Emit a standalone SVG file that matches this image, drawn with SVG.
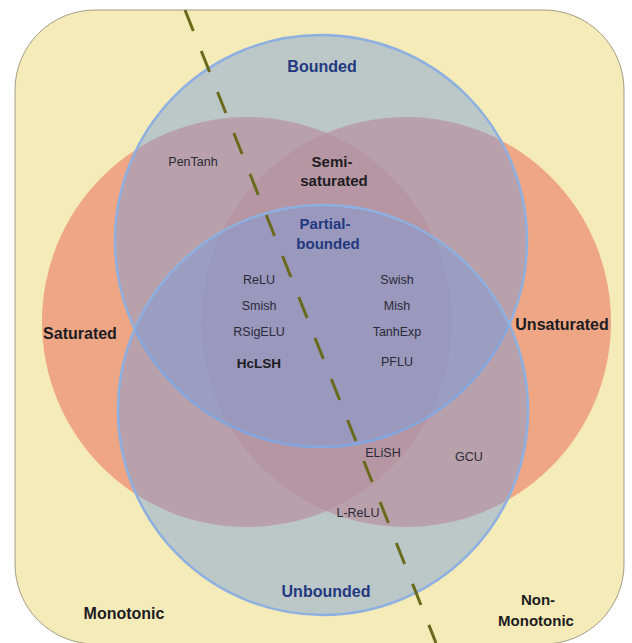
<svg xmlns="http://www.w3.org/2000/svg" width="632" height="643" viewBox="0 0 632 643">
<defs>
<style>
.bg{fill:#F5EBB8;stroke:#A39C86;stroke-width:1}
.red{fill:#EB8A70;fill-opacity:0.72;stroke:none}
.blue{fill:#789BDC;fill-opacity:0.45;stroke:#8DB0E0;stroke-width:2.5}
.dash{stroke:#6A6A1C;stroke-width:3;stroke-dasharray:22.6 21.5;fill:none}
text{font-family:"Liberation Sans",Arial,sans-serif;text-anchor:middle}
.big{font-size:16px;font-weight:bold;fill:#1C1C22}
.mid{font-size:15px;font-weight:bold;fill:#1C1C22}
.blu{font-size:16px;font-weight:bold;fill:#22397F}
.blum{font-size:15px;font-weight:bold;fill:#22397F}
.sm{font-size:12.5px;fill:#2A2A38}
.smb{font-size:13.5px;font-weight:bold;fill:#1C1C22}
</style>
</defs>
<rect width="632" height="643" fill="#FFFFFF"/>
<g id="monotonicity">
<rect class="bg" x="15" y="10" width="609" height="634" rx="80" ry="80"/>
</g>
<g id="saturated">
<circle class="red" cx="247" cy="322" r="205"/>
</g>
<g id="unsaturated">
<circle class="red" cx="406" cy="322" r="205"/>
</g>
<g id="bounded">
<circle class="blue" cx="321" cy="241" r="206"/>
</g>
<g id="unbounded">
<circle class="blue" cx="323" cy="410" r="205"/>
</g>
<g id="connectors">
<line class="dash" x1="185" y1="10" x2="436" y2="643"/>
</g>
<g id="labels">
<text class="blu" x="322" y="72">Bounded</text>
<text class="sm" x="193" y="166">PenTanh</text>
<text class="mid" x="332" y="167">Semi-</text>
<text class="mid" x="334" y="186">saturated</text>
<text class="blum" x="325" y="229">Partial-</text>
<text class="blum" x="328" y="249">bounded</text>
<text class="sm" x="259" y="284">ReLU</text>
<text class="sm" x="259" y="310">Smish</text>
<text class="sm" x="259" y="336">RSigELU</text>
<text class="smb" x="259" y="368">HcLSH</text>
<text class="sm" x="397" y="284">Swish</text>
<text class="sm" x="397" y="310">Mish</text>
<text class="sm" x="397" y="336">TanhExp</text>
<text class="sm" x="397" y="366">PFLU</text>
<text class="big" x="80" y="339">Saturated</text>
<text class="big" x="562" y="330">Unsaturated</text>
<text class="sm" x="383" y="457">ELiSH</text>
<text class="sm" x="469" y="461">GCU</text>
<text class="sm" x="358" y="517">L-ReLU</text>
<text class="blu" x="326" y="597">Unbounded</text>
<text class="big" x="124" y="619">Monotonic</text>
<text class="mid" x="538" y="605">Non-</text>
<text class="mid" x="536" y="626">Monotonic</text>
</g>
</svg>
